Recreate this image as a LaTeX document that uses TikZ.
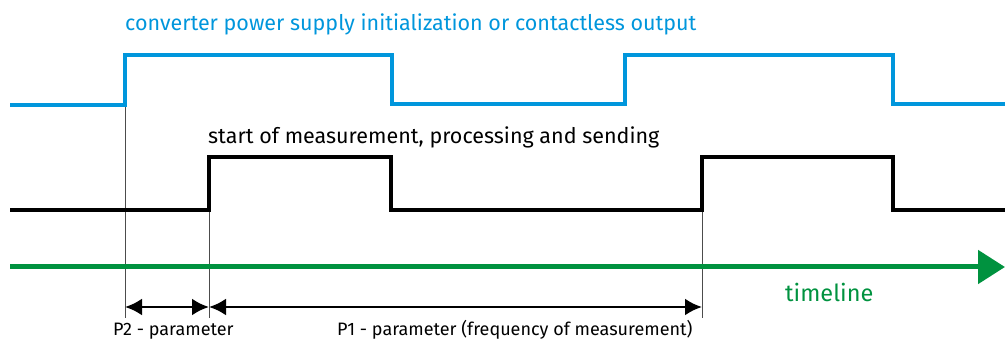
\documentclass[tikz,border=0pt]{standalone}
\usepackage{fontspec}
\setmainfont{Fira Sans}
\usetikzlibrary{calc,arrows.meta}
\definecolor{supplyblue}{RGB}{0,150,220}
\definecolor{timegreen}{RGB}{0,146,63}
\tikzstyle{diagram}=[
  x=1pt,y=-1pt,font=\fontsize{21.5}{24}\selectfont
]
\tikzstyle{supplyline}=[
  line width=4pt,supplyblue,line join=miter
]
\tikzstyle{measureline}=[
  line width=4pt,black,line join=miter
]
\tikzstyle{timeaxis}=[
  line width=5pt,timegreen,-{Triangle[length=27pt,width=33pt]}
]
\tikzstyle{marker}=[
  line width=0.6pt,black!70
]
\tikzstyle{span}=[
  line width=2.8pt,{Latex[length=17pt,width=17pt]}-{Latex[length=17pt,width=17pt]}
]
\tikzstyle{label}=[
  inner sep=0pt,anchor=base west
]
\tikzstyle{paramlabel}=[
  label,font=\fontsize{18}{20}\selectfont
]

\begin{document}
\begin{tikzpicture}[diagram]
    \useasboundingbox (0,0) rectangle (1005,339);
      % supply signal corners
      \coordinate (s0) at (10,105);
      \coordinate (s1) at (125,105);
      \coordinate (s2) at (125,55);
      \coordinate (s3) at (392,55);
      \coordinate (s4) at (392,104);
      \coordinate (s5) at (625,104);
      \coordinate (s6) at (625,55);
      \coordinate (s7) at (893,55);
      \coordinate (s8) at (893,104);
      \coordinate (s9) at (1005,104);
      % measurement signal corners
      \coordinate (m0) at (10,210);
      \coordinate (m1) at (209,210);
      \coordinate (m2) at (209,157);
      \coordinate (m3) at (391,157);
      \coordinate (m4) at (391,210);
      \coordinate (m5) at (702,210);
      \coordinate (m6) at (702,157);
      \coordinate (m7) at (893,157);
      \coordinate (m8) at (893,210);
      \coordinate (m9) at (1005,210);
      % timeline
      \coordinate (t0) at (10,267);
      \coordinate (t1) at (1005,267);
      % marker feet
      \coordinate (f1) at (125,318);
      \coordinate (f2) at (209,318);
      \coordinate (f3) at (702,318);
      \coordinate (a1) at (125,307);
      \coordinate (a2) at (209,307);
      \coordinate (a3) at (702,307);

      \draw [marker] (s1) -- (f1);
      \draw [marker] (m1) -- (f2);
      \draw [marker] (m5) -- (f3);

      \draw [supplyline] (s0) -- (s1) -- (s2) -- (s3) -- (s4) -- (s5) -- (s6) -- (s7) -- (s8) -- (s9);
      \draw [measureline] (m0) -- (m1) -- (m2) -- (m3) -- (m4) -- (m5) -- (m6) -- (m7) -- (m8) -- (m9);
      \draw [timeaxis] (t0) -- (t1);

      \draw [span] (a1) -- (a2);
      \draw [span] (a2) -- (a3);

      \node (supply) [label,text=supplyblue] at (125,31) {converter power supply initialization or contactless output};
      \node (measure) [label] at (208,144) {start of measurement, processing and sending};
      \node (time) [label,text=timegreen,font=\fontsize{23.5}{26}\selectfont] at (785,302) {timeline};
      \node (p2) [paramlabel] at (113,336) {P2 - parameter};
      \node (p1) [paramlabel] at (337,336) {P1 - parameter (frequency of measurement)};
    \end{tikzpicture}
\end{document}
